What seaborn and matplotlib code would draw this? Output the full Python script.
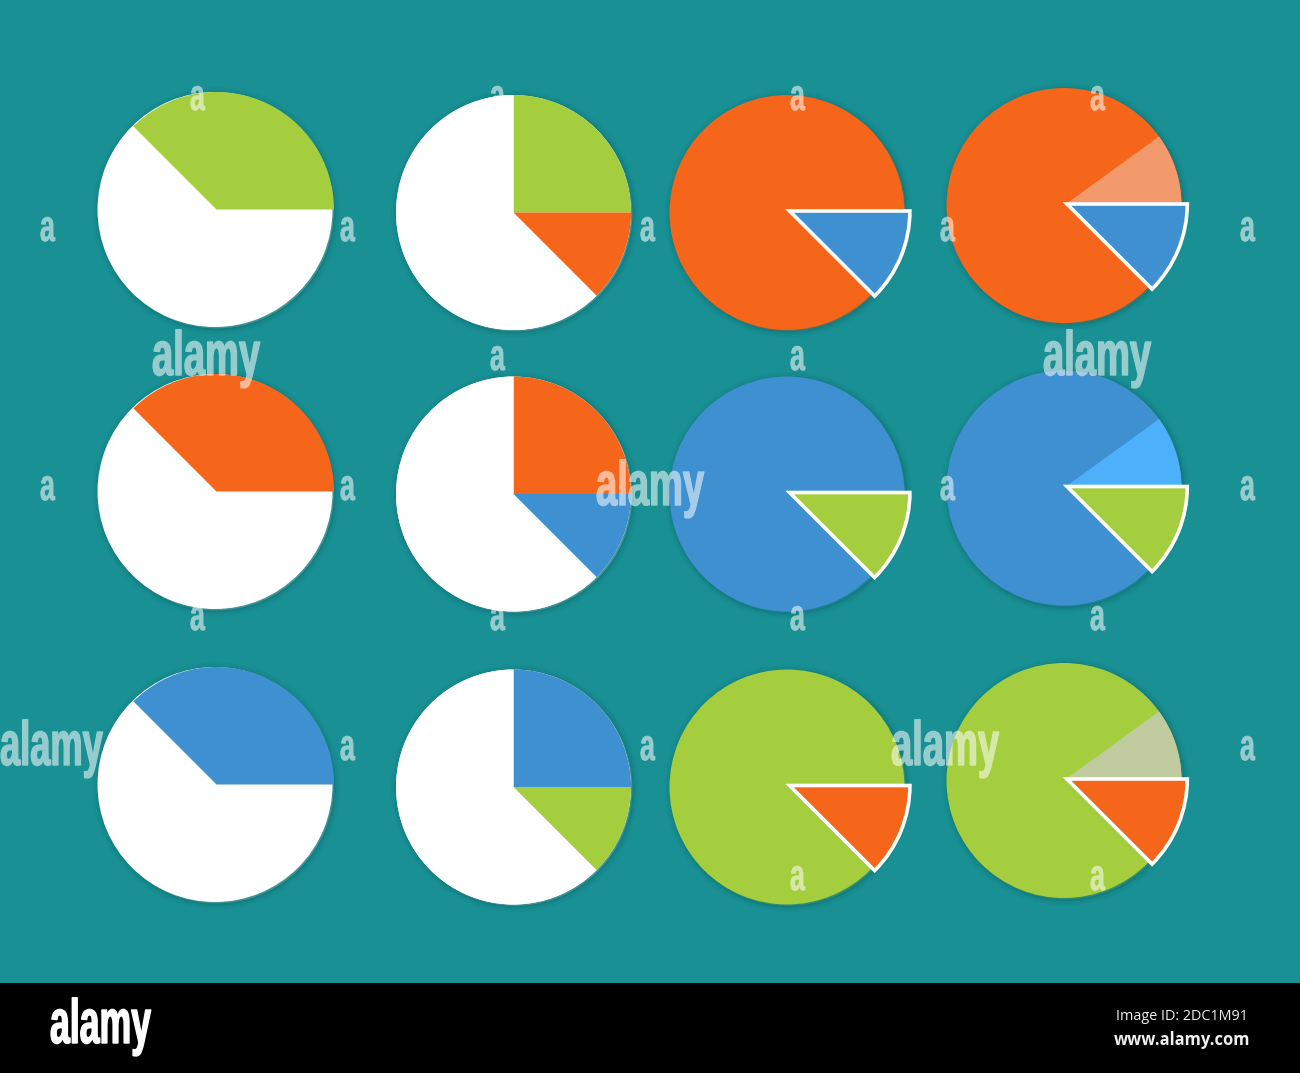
import matplotlib
matplotlib.use("Agg")
import matplotlib.pyplot as plt
import matplotlib.patheffects as pe
from matplotlib.transforms import Affine2D
import seaborn as sns

# --- data (percent shares of each pie, counter-clockwise from 3 o'clock) ---
half_values = [37.5, 62.5]
split_values = [25.0, 62.5, 12.5]
inset_share = [12.5]
tint_share = [10.0]

GREEN, ORANGE, BLUE = "#A4CE3E", "#F5651A", "#3E90D0"
WHITE, TEAL, BLACK = "#FFFFFF", "#189094", "#000000"
row_first = [GREEN, ORANGE, BLUE]
row_second = [ORANGE, BLUE, GREEN]
row_main = [ORANGE, BLUE, GREEN]
row_inset = [BLUE, GREEN, ORANGE]
row_tint = ["#F29A6B", "#4DB0FB", "#C0CCA0"]
big_mark = "alamy"
small_mark = "a"
credit_id = "Image ID: 2DC1M91"
credit_url = "www.alamy.com"

# --- layout, in pixels from the top-left corner ---
W, H = 1300, 1073
col1_y = [209.5, 491.5, 784.5]
col2_y = [212.5, 494.0, 787.0]
col3_y = [212.5, 494.0, 787.0]
col4_y = [205.5, 488.0, 780.5]
col_x = [215, 513.5, 787, 1064]
R = 117.5
big_pos = [(152, 375, 0.61), (1043, 375, 0.61), (596, 505, 0.61), (0, 765, 0.58), (891, 765, 0.61)]
small_pos = [(198, 98), (498, 98), (798, 98), (1098, 98),
             (48, 229), (348, 229), (648, 229), (948, 229), (1248, 229),
             (498, 358), (798, 358),
             (48, 488), (348, 488), (948, 488), (1248, 488),
             (198, 618), (498, 618), (798, 618), (1098, 618),
             (348, 748), (648, 748), (1248, 748),
             (798, 878), (1098, 878)]

sns.set_theme(style="white")
fig = plt.figure(figsize=(W / 100, H / 100), dpi=100, facecolor=TEAL)
ax = fig.add_axes([0, 0, 1, 1])
ax.set_facecolor(TEAL)


class Condense(pe.AbstractPathEffect):
    """Narrows a text about its own left baseline point and thickens its strokes."""

    def __init__(self, sx, weight=0.75):
        super().__init__()
        self.sx = sx
        self.weight = weight

    def draw_path(self, renderer, gc, tpath, affine, rgbFace=None):
        gc0 = renderer.new_gc()
        gc0.copy_properties(gc)
        gc0.set_linewidth(self.weight)
        gc0.set_foreground(rgbFace)
        gc0.set_joinstyle("round")
        renderer.draw_path(gc0, tpath, Affine2D().scale(self.sx, 1) + affine, rgbFace)
        gc0.restore()


def translucent(img, dpi):
    """Fades a whole drawn mark at once, so fill and outline do not add up."""
    out = img.copy()
    out[..., 3] *= 0.55
    return out, 0, 0


def soft_shadow():
    layers = []
    for lw, alpha in [(9, 0.035), (6, 0.05), (3.5, 0.07), (1.5, 0.09)]:
        layers.append(pe.Stroke(linewidth=lw, foreground="#063F40", alpha=alpha, offset=(1.0, -1.0)))
    layers.append(pe.Normal())
    return layers


def pie(x, y, values, colors, start=0, radius=R, dx=0, dy=0, edge=None, lw=0, z=2, shade=False):
    normalize = sum(values) >= 100
    data = values if normalize else [v / 100 for v in values]
    wedges, _ = ax.pie(data, colors=colors, startangle=start, radius=radius,
                       center=(x + dx, H - y + dy), normalize=normalize, frame=True,
                       wedgeprops=dict(edgecolor=edge if edge else "none", linewidth=lw,
                                       joinstyle="miter"))
    for w in wedges:
        w.set_zorder(z)
        if shade:
            w.set_path_effects(soft_shadow())
    return wedges


for i in range(3):
    # column 1: accent + white
    pie(col_x[0], col1_y[i], [100], [WHITE], shade=True)
    pie(col_x[0], col1_y[i], half_values[:1], [row_first[i]], dx=1.5, z=3)
    # column 2: accent, white, second accent
    pie(col_x[1], col2_y[i], [100], [WHITE], shade=True)
    pie(col_x[1], col2_y[i], split_values, [row_first[i], WHITE, row_second[i]], z=3)
    # column 3: full pie with a displaced outlined slice
    pie(col_x[2], col3_y[i], [100], [row_main[i]], shade=True)
    pie(col_x[2], col3_y[i], inset_share, [row_inset[i]], start=315, radius=R + 2.8,
        dx=2.6, dy=1.5, edge=WHITE, lw=2.6, z=4)
    # column 4: full pie, tinted slice, displaced outlined slice
    pie(col_x[3], col4_y[i], [100], [row_main[i]], shade=True)
    pie(col_x[3], col4_y[i], tint_share, [row_tint[i]], z=3)
    pie(col_x[3], col4_y[i], inset_share, [row_inset[i]], start=315, radius=R + 2.8,
        dx=3.0, dy=1.5, edge=WHITE, lw=2.6, z=4)

ax.axhspan(0, H - 983, color=BLACK, lw=0, zorder=1)

mark_font = dict(family="Liberation Sans", fontweight="bold", ha="left", va="baseline",
                 color="white", zorder=6)
for x, y, sx in big_pos:
    t = ax.text(x, H - y, big_mark, fontsize=45, path_effects=[Condense(sx, 1.0)], **mark_font)
    t.set_agg_filter(translucent)
for x, y in small_pos:
    t = ax.text(x - 8, H - (y + 12), small_mark, fontsize=32,
                path_effects=[Condense(0.6, 0.6)], **mark_font)
    t.set_agg_filter(translucent)
ax.text(50, H - 1043, big_mark, fontsize=45, path_effects=[Condense(0.57, 1.0)], **mark_font)

ax.text(1182, H - 1017, credit_id, fontsize=10.4, color="#F0F0F0", ha="center", va="center",
        family="Open Sans", zorder=6)
ax.text(1182.5, H - 1040, credit_url, fontsize=11.9, color="#F0F0F0", fontweight="bold",
        ha="center", va="center", family="Open Sans", zorder=6)

ax.set_xlim(0, W)
ax.set_ylim(0, H)
ax.set_aspect("auto")
ax.axis("off")
fig.savefig("out.png", dpi=100, facecolor=TEAL)
